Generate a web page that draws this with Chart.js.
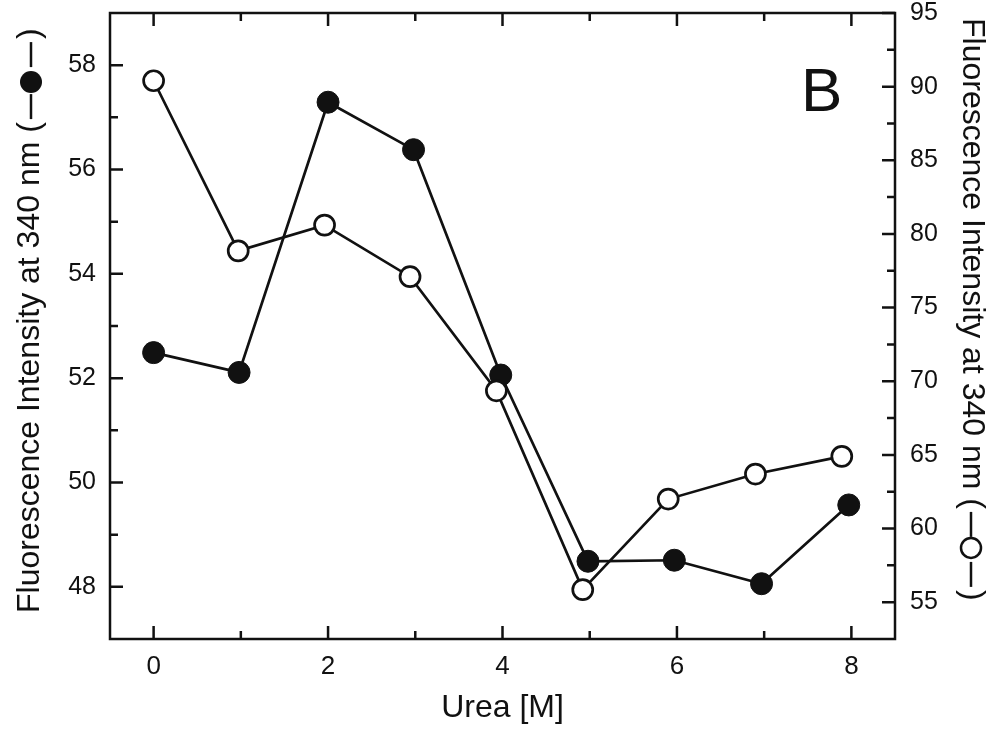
<!DOCTYPE html>
<html>
<head>
<meta charset="utf-8">
<script src="https://cdn.jsdelivr.net/npm/chart.js@4/dist/chart.umd.min.js"></script>
<style>
    html, body { margin: 0; padding: 0; background: #fff; }
    #wrap { width: 998px; height: 734px; }
</style>
</head>
<body>
<div id="wrap"><canvas id="chart"></canvas></div>
<script>
// Urea denaturation - fluorescence at 340 nm, panel B

// filled circles, left axis
const ureaFilled = [0, 0.98, 2.0, 2.98, 3.98, 4.98, 5.97, 6.97, 7.97];
const intensityFilled = [52.49, 52.11, 57.29, 56.38, 52.06, 48.49, 48.51, 48.06, 49.57];

// open circles, right axis
const ureaOpen = [0, 0.97, 1.96, 2.94, 3.93, 4.92, 5.9, 6.9, 7.89];
const intensityOpen = [90.4, 78.85, 80.6, 77.1, 69.35, 55.85, 62.0, 63.7, 64.9];

// tick values
const xMajor = [0, 2, 4, 6, 8];
const xMinor = [1, 3, 5, 7];
const leftMajor = [48, 50, 52, 54, 56, 58];
const leftMinor = [49, 51, 53, 55, 57];
const rightMajor = [55, 60, 65, 70, 75, 80, 85, 90, 95];
const rightMinor = [57.5, 62.5, 67.5, 72.5, 77.5, 82.5, 87.5, 92.5];

const yTitle = 'Fluorescence Intensity at 340 nm ';

const FONT = '"Liberation Sans", Arial, Helvetica, sans-serif';
const INK = '#111';

const toPoints = (xs, ys) => xs.map((x, i) => ({ x: x, y: ys[i] }));
const fixTicks = (vals) => (scale) => { scale.ticks = vals.map(v => ({ value: v })); };

// rotated axis title followed by "(—marker—)"
function drawYTitle(ctx, x, y, angle, filled) {
    const dash = 25;
    ctx.save();
    ctx.translate(x, y);
    ctx.rotate(angle);
    ctx.font = '32px ' + FONT;
    ctx.fillStyle = INK;
    ctx.strokeStyle = INK;
    ctx.textAlign = 'left';
    ctx.textBaseline = 'middle';
    let pos = 0;
    ctx.fillText(yTitle + '(', pos, 0);
    pos += ctx.measureText(yTitle + '(').width + 3;
    ctx.lineWidth = 2.5;
    ctx.beginPath();
    ctx.moveTo(pos, 1); ctx.lineTo(pos + dash, 1);
    ctx.stroke();
    pos += dash + 1;
    const r = filled ? 11 : 10;
    ctx.beginPath();
    ctx.arc(pos + r, 1, r, 0, Math.PI * 2);
    if (filled) { ctx.fill(); } else { ctx.fillStyle = '#fff'; ctx.fill(); ctx.stroke(); ctx.fillStyle = INK; }
    pos += 2 * r + 4;
    ctx.beginPath();
    ctx.moveTo(pos, 1); ctx.lineTo(pos + dash, 1);
    ctx.stroke();
    pos += dash + 3;
    ctx.fillText(')', pos, 0);
    ctx.restore();
}

// frame box + inward major/minor tick marks + titles + panel letter
const framePlugin = {
    id: 'frame',
    beforeDatasetsDraw(chart) {
        const { ctx, chartArea: a, scales } = chart;
        const major = 13, minor = 8;
        ctx.save();
        ctx.strokeStyle = INK;
        ctx.lineWidth = 2.5;
        ctx.lineCap = 'butt';

        ctx.beginPath();
        const tickX = (vals, len) => vals.forEach(v => {
            const px = scales.x.getPixelForValue(v);
            ctx.moveTo(px, a.bottom); ctx.lineTo(px, a.bottom - len);
            ctx.moveTo(px, a.top); ctx.lineTo(px, a.top + len);
        });
        tickX(xMajor, major);
        tickX(xMinor, minor);

        const tickY = (scale, vals, len, fromLeft) => vals.forEach(v => {
            const py = scale.getPixelForValue(v);
            if (fromLeft) { ctx.moveTo(a.left, py); ctx.lineTo(a.left + len, py); }
            else { ctx.moveTo(a.right, py); ctx.lineTo(a.right - len, py); }
        });
        tickY(scales.yL, leftMajor, major, true);
        tickY(scales.yL, leftMinor, minor, true);
        tickY(scales.yR, rightMajor, major, false);
        tickY(scales.yR, rightMinor, minor, false);
        ctx.stroke();

        ctx.strokeRect(a.left, a.top, a.right - a.left, a.bottom - a.top);

        // panel letter
        ctx.fillStyle = INK;
        ctx.font = '62px ' + FONT;
        ctx.textAlign = 'left';
        ctx.textBaseline = 'alphabetic';
        ctx.fillText('B', 801, 111);
        ctx.restore();

        drawYTitle(ctx, 30, 613, -Math.PI / 2, true);
        drawYTitle(ctx, 972, 18, Math.PI / 2, false);
    }
};

const ctx = document.getElementById('chart').getContext('2d');

new Chart(ctx, {
    type: 'scatter',
    data: {
        datasets: [
            {
                label: 'open',
                data: toPoints(ureaOpen, intensityOpen),
                yAxisID: 'yR',
                showLine: true,
                borderColor: INK,
                borderWidth: 2.7,
                pointRadius: 10,
                pointBorderWidth: 2.7,
                pointBackgroundColor: '#fff',
                pointBorderColor: INK,
                tension: 0
            },
            {
                label: 'filled',
                data: toPoints(ureaFilled, intensityFilled),
                yAxisID: 'yL',
                showLine: true,
                borderColor: INK,
                borderWidth: 2.7,
                pointRadius: 11,
                pointBorderWidth: 1,
                pointBackgroundColor: INK,
                pointBorderColor: INK,
                tension: 0
            }
        ]
    },
    options: {
        responsive: true,
        maintainAspectRatio: false,
        animation: false,
        layout: { padding: { top: 13, left: 0, right: 0, bottom: 0 } },
        plugins: {
            legend: { display: false },
            tooltip: { enabled: false }
        },
        scales: {
            x: {
                type: 'linear',
                position: 'bottom',
                min: -0.5,
                max: 8.5,
                afterBuildTicks: fixTicks(xMajor),
                afterFit: (s) => { s.height = 95; s.paddingLeft = 0; s.paddingRight = 0; },
                grid: { display: false, drawTicks: false },
                border: { display: false },
                ticks: { color: INK, font: { family: FONT, size: 26 }, padding: 12 },
                title: {
                    display: true,
                    text: 'Urea [M]',
                    color: INK,
                    font: { family: FONT, size: 32 },
                    padding: { top: 0, bottom: 7 }
                }
            },
            yL: {
                type: 'linear',
                position: 'left',
                min: 47,
                max: 59,
                afterBuildTicks: fixTicks(leftMajor),
                afterFit: (s) => { s.width = 110; s.paddingTop = 0; s.paddingBottom = 0; },
                grid: { display: false, drawTicks: false },
                border: { display: false },
                ticks: { color: INK, font: { family: FONT, size: 25 }, padding: 14 }
            },
            yR: {
                type: 'linear',
                position: 'right',
                min: 52.5,
                max: 95,
                afterBuildTicks: fixTicks(rightMajor),
                afterFit: (s) => { s.width = 103; s.paddingTop = 0; s.paddingBottom = 0; },
                grid: { display: false, drawTicks: false },
                border: { display: false },
                ticks: { color: INK, font: { family: FONT, size: 25 }, padding: 15 }
            }
        }
    },
    plugins: [framePlugin]
});
</script>
</body>
</html>
